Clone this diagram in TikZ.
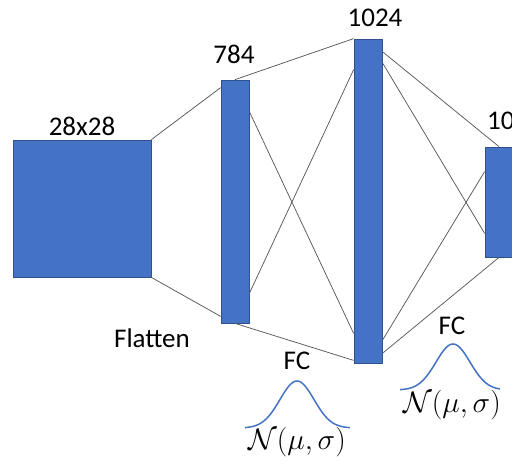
\documentclass[tikz,border=0pt]{standalone}
\usepackage{fontspec}
\setmainfont{Carlito}
\usetikzlibrary{calc}
\definecolor{boxblue}{HTML}{4472C4}
\definecolor{boxedge}{HTML}{2F528F}
\definecolor{wire}{HTML}{595959}
\newcommand{\normdist}{\scalebox{1.19}{$\mathcal{N}(\mu,\sigma)$}}
\begin{document}
\begin{tikzpicture}[x=1pt,y=-1pt,
  layer/.style={draw=boxedge,line width=0.75pt,fill=boxblue,inner sep=0pt,minimum width=28pt},
  wireline/.style={draw=wire,line width=0.75pt},
  lbl/.style={font=\fontsize{27}{30}\selectfont,inner sep=0pt},
  mlbl/.style={font=\fontsize{24.88}{30}\selectfont,inner sep=0pt},
  gauss/.style={draw=boxblue,line width=1.5pt}]
\useasboundingbox (0,0) rectangle (512,461);
\clip (0,0) rectangle (512,461);
\node[layer,minimum width=138pt,minimum height=137pt] (sq) at (82,208.5) {};
\node[layer,minimum height=243pt] (l784) at (235,201.5) {};
\node[layer,minimum height=324pt] (l1024) at (368,201) {};
\node[layer,minimum height=110pt] (l10) at (499,202) {};
% connectors
\draw[wireline] (sq.north east) -- ([yshift=-8pt]l784.north west);
\draw[wireline] (sq.south east) -- ([yshift=7pt]l784.south west);
\draw[wireline] (l784.north) -- (l1024.north west);
\draw[wireline] ([yshift=-32pt]l784.north east) -- ([yshift=30pt]l1024.south west);
\draw[wireline] ([yshift=30pt]l784.south east) -- ([yshift=-31pt]l1024.north west);
\draw[wireline] (l784.south) -- ([yshift=3pt]l1024.south west);
\draw[wireline] ([yshift=-13pt]l1024.north east) -- (l10.north);
\draw[wireline] ([yshift=-24pt]l1024.north east) -- ([yshift=24pt]l10.south west);
\draw[wireline] ([yshift=23pt]l1024.south east) -- ([yshift=-25pt]l10.north west);
\draw[wireline] ([yshift=10pt]l1024.south east) -- (l10.south);
% labels
\node[lbl] (t28) at (82,126) {28x28};
\node[lbl] (t784) at (234,54) {784};
\node[lbl] (t1024) at (375,18) {1024};
\node[lbl,anchor=west] (t10) at (487,121) {10};
\node[lbl] (tfl) at (152,338) {Flatten};
\node[lbl] (fc1) at (297,361) {FC};
\node[lbl] (fc2) at (452,326) {FC};
% gaussians
\draw[gauss] plot[domain=-52:53,samples=80,smooth] ({297+\x},{428-47*exp(-(\x*\x)/(2*17*17))});
\draw[gauss] plot[domain=-53:47,samples=80,smooth] ({453+\x},{390-46*exp(-(\x*\x)/(2*17*17))});
\node[mlbl] (n1) at (297,442) {\normdist};
\node[mlbl] (n2) at (452,405) {\normdist};
\end{tikzpicture}
\end{document}
